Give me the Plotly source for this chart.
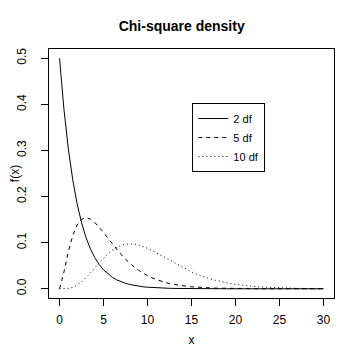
import plotly.graph_objects as go

x_vals = [0, 0.5, 1, 1.5, 2, 2.5, 3, 3.5, 4, 4.5, 5, 5.5, 6, 6.5, 7, 7.5, 8, 8.5, 9, 9.5,
          10, 10.5, 11, 11.5, 12, 12.5, 13, 13.5, 14, 14.5, 15, 15.5, 16, 16.5, 17, 17.5,
          18, 18.5, 19, 19.5, 20, 20.5, 21, 21.5, 22, 22.5, 23, 23.5, 24, 24.5, 25, 25.5,
          26, 26.5, 27, 27.5, 28, 28.5, 29, 29.5, 30]

df2 = [0.5, 0.3894, 0.3033, 0.2362, 0.1839, 0.1433, 0.1116, 0.0869, 0.0677, 0.0527,
       0.0410, 0.0320, 0.0249, 0.0194, 0.0151, 0.0118, 0.0092, 0.0071, 0.0056, 0.0043,
       0.0034, 0.0026, 0.0020, 0.0016, 0.0012, 0.0010, 0.0008, 0.0006, 0.0005, 0.0004,
       0.0003, 0.0002, 0.0002, 0.0001, 0.0001, 0.0001, 0.0001, 0.0, 0.0, 0.0,
       0.0, 0.0, 0.0, 0.0, 0.0, 0.0, 0.0, 0.0, 0.0, 0.0,
       0.0, 0.0, 0.0, 0.0, 0.0, 0.0, 0.0, 0.0, 0.0, 0.0, 0.0]

df5 = [0.0, 0.0366, 0.0807, 0.1154, 0.1384, 0.1506, 0.1542, 0.1513, 0.1440, 0.1338,
       0.1221, 0.1096, 0.0973, 0.0855, 0.0744, 0.0642, 0.0551, 0.0470, 0.0399, 0.0337,
       0.0283, 0.0237, 0.0198, 0.0165, 0.0137, 0.0113, 0.0094, 0.0077, 0.0064, 0.0052,
       0.0043, 0.0035, 0.0029, 0.0023, 0.0019, 0.0015, 0.0013, 0.0010, 0.0008, 0.0007,
       0.0005, 0.0004, 0.0004, 0.0003, 0.0002, 0.0002, 0.0001, 0.0001, 0.0001, 0.0001,
       0.0001, 0.0, 0.0, 0.0, 0.0, 0.0, 0.0, 0.0, 0.0, 0.0, 0.0]

df10 = [0.0, 0.0001, 0.0008, 0.0031, 0.0077, 0.0146, 0.0235, 0.0340, 0.0451, 0.0563,
        0.0668, 0.0762, 0.0840, 0.0901, 0.0944, 0.0969, 0.0977, 0.0970, 0.0949, 0.0918,
        0.0877, 0.0831, 0.0779, 0.0725, 0.0669, 0.0614, 0.0559, 0.0506, 0.0456, 0.0409,
        0.0365, 0.0324, 0.0286, 0.0252, 0.0221, 0.0194, 0.0169, 0.0147, 0.0127, 0.0110,
        0.0095, 0.0081, 0.0070, 0.0060, 0.0051, 0.0043, 0.0037, 0.0031, 0.0027, 0.0022,
        0.0019, 0.0016, 0.0013, 0.0011, 0.0009, 0.0008, 0.0006, 0.0005, 0.0004, 0.0004, 0.0003]

series_names = ["2 df", "5 df", "10 df"]
x_ticks = [0, 5, 10, 15, 20, 25, 30]
y_ticks = [0.0, 0.1, 0.2, 0.3, 0.4, 0.5]
y_tick_text = ["0.0", "0.1", "0.2", "0.3", "0.4", "0.5"]

FONT = "Liberation Sans"

fig = go.Figure()
dashes = ["solid", "4px,4px", "1px,3px"]
for name, ys, dash in zip(series_names, [df2, df5, df10], dashes):
    fig.add_trace(go.Scatter(x=x_vals, y=ys, mode="lines", name=name,
                             line=dict(color="black", width=1, dash=dash)))

axis_common = dict(showgrid=False, zeroline=False, showline=True, linecolor="black",
                   linewidth=1, mirror=True, ticks="outside", ticklen=7, tickwidth=1,
                   tickcolor="black", automargin=False,
                   tickfont=dict(family=FONT, size=12, color="black"))

fig.update_layout(
    width=360, height=360,
    margin=dict(l=41, r=34, t=41, b=70),
    paper_bgcolor="white", plot_bgcolor="white",
    font=dict(family=FONT, size=12, color="black"),
    title=dict(text="<b>Chi-square density</b>", x=0.4656, xref="paper", xanchor="center",
               y=1 - 18 / 360, yref="container", yanchor="middle",
               font=dict(family=FONT, size=14, color="black")),
    xaxis=dict(range=[-1.2, 31.2], tickvals=x_ticks, ticklabelstandoff=4,
               title=dict(text="x", font=dict(family=FONT, size=12), standoff=9),
               **axis_common),
    yaxis=dict(range=[-0.02, 0.52], tickvals=y_ticks, ticktext=y_tick_text, tickangle=-90,
               ticklabelstandoff=10,
               title=dict(text="f(x)", font=dict(family=FONT, size=12), standoff=9),
               **axis_common),
    legend=dict(x=0.503, y=0.783, xanchor="left", yanchor="top",
                bordercolor="black", borderwidth=1, bgcolor="white",
                font=dict(family=FONT, size=11, color="black"),
                itemwidth=30, tracegroupgap=0),
    showlegend=True,
)

fig.write_html("out.html")
